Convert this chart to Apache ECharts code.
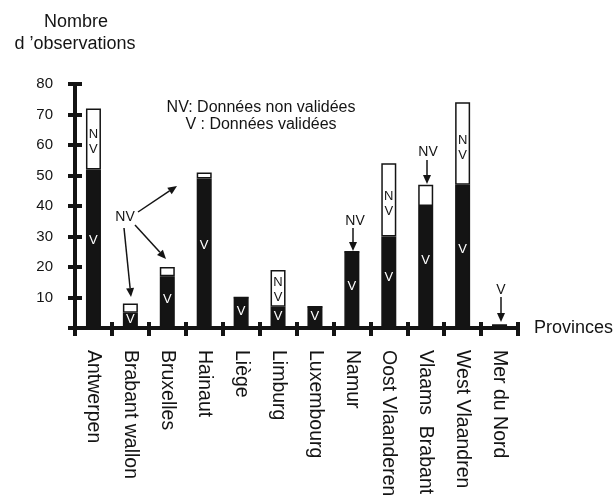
<!DOCTYPE html>
<html>
<head>
<meta charset="utf-8">
<script src="https://cdn.jsdelivr.net/npm/echarts@6/dist/echarts.min.js"></script>
<style>html,body{margin:0;padding:0;background:#fff}#c{width:616px;height:495px}</style>
</head>
<body>
<div id="c"></div>
<script>
const categories = ['Antwerpen','Brabant wallon','Bruxelles','Hainaut','Liège','Limburg','Luxembourg','Namur','Oost Vlaanderen','Vlaams  Brabant','West Vlaandren','Mer du Nord'];
const validated = [52, 5, 17, 49, 10, 7, 7, 25, 30, 40, 47, 1];
const nonValidated = [20, 3, 3, 2, 0, 12, 0, 0, 24, 7, 27, 0];
const vLabels = ['V','V','V','V','V','V','V','V','V','V','V',''];
const nvLabels = ['N\nV','','','','','N\nV','','','N\nV','','N\nV',''];
const yMin = 0, yMax = 80, yInterval = 10;

const FONT = 'Liberation Sans, Arial, sans-serif';
const INK = '#141414';

const chart = echarts.init(document.getElementById('c'), null, {renderer: 'canvas'});

function arrow(x1, y1, x2, y2) {
  const dx = x2 - x1, dy = y2 - y1;
  const len = Math.sqrt(dx*dx + dy*dy);
  const ux = dx/len, uy = dy/len;
  const hl = 9, hw = 4;
  const bx = x2 - ux*hl, by = y2 - uy*hl;
  return [
    {type: 'line', shape: {x1: x1, y1: y1, x2: bx, y2: by}, style: {stroke: INK, lineWidth: 1.5}, silent: true},
    {type: 'polygon', shape: {points: [[x2, y2], [bx - uy*hw, by + ux*hw], [bx + uy*hw, by - ux*hw]]}, style: {fill: INK}, silent: true}
  ];
}
function txt(x, y, text, size, align) {
  return {type: 'text', x: x, y: y, silent: true,
    style: {text: text, fontSize: size, fontFamily: FONT, fill: INK, align: align || 'center', verticalAlign: 'middle'}};
}

const graphics = [].concat(
  [txt(76, 22, 'Nombre', 18), txt(75, 44, "d \u2019observations", 18),
   txt(261, 108, 'NV: Données non validées', 16), txt(261, 125, 'V : Données validées', 16),
   txt(125, 217, 'NV', 14), txt(355, 221, 'NV', 14), txt(428, 152, 'NV', 14), txt(501, 290, 'V', 14)],
  arrow(138, 212, 177, 186),
  arrow(124, 228, 131, 297),
  arrow(135, 225, 166, 259),
  arrow(353, 228, 353, 251),
  arrow(427, 160, 427, 184),
  arrow(501, 297, 501, 322)
);

const yBase = {type: 'value', min: yMin, max: yMax, interval: yInterval, position: 'left', splitLine: {show: false}};
const xBase = {type: 'category', data: categories, position: 'bottom', boundaryGap: true};

chart.setOption({
  animation: false,
  backgroundColor: '#fff',
  grid: {left: 75, right: 98, top: 84, bottom: 167, containLabel: false, outerBoundsMode: 'none'},
  graphic: graphics,
  xAxis: [
    Object.assign({}, xBase, {
      name: 'Provinces', nameLocation: 'end', nameGap: 16,
      nameTextStyle: {fontSize: 18, fontFamily: FONT, color: INK, verticalAlign: 'middle', align: 'left'},
      axisLine: {lineStyle: {color: INK, width: 4}},
      axisTick: {show: true, interval: 0, length: 8, inside: false, lineStyle: {color: INK, width: 4}},
      axisLabel: {interval: 0, rotate: -90, margin: 22, fontSize: 19.5, fontFamily: FONT, color: INK}
    }),
    Object.assign({}, xBase, {
      axisLine: {show: false},
      axisTick: {show: true, interval: 0, length: 6, inside: true, lineStyle: {color: INK, width: 4}},
      axisLabel: {show: false}
    })
  ],
  yAxis: [
    Object.assign({}, yBase, {
      axisLine: {show: true, lineStyle: {color: INK, width: 4}},
      axisTick: {show: true, length: 7, inside: false, lineStyle: {color: INK, width: 4}},
      axisLabel: {margin: 22, fontSize: 15, fontFamily: FONT, color: INK,
        formatter: function (v) { return v === 0 ? '' : String(v); }}
    }),
    Object.assign({}, yBase, {
      axisLine: {show: false},
      axisTick: {show: true, length: 7, inside: true, lineStyle: {color: INK, width: 4}},
      axisLabel: {show: false}
    })
  ],
  series: [
    {
      name: 'V', type: 'bar', stack: 'obs', xAxisIndex: 0, yAxisIndex: 0,
      data: validated, barWidth: 15,
      itemStyle: {color: INK, borderColor: INK, borderWidth: 1.5},
      label: {show: true, position: ['50%', '45%'], align: 'center', verticalAlign: 'middle',
        color: '#fff', fontSize: 13, fontFamily: FONT,
        formatter: function (p) { return vLabels[p.dataIndex]; }}
    },
    {
      name: 'NV', type: 'bar', stack: 'obs', xAxisIndex: 0, yAxisIndex: 0,
      data: nonValidated, barWidth: 15,
      itemStyle: {color: '#fff', borderColor: INK, borderWidth: 1.5},
      label: {show: true, position: ['50%', '55%'], align: 'center', verticalAlign: 'middle',
        color: INK, fontSize: 13, lineHeight: 15, fontFamily: FONT,
        formatter: function (p) { return nvLabels[p.dataIndex]; }}
    }
  ]
});
</script>
</body>
</html>
